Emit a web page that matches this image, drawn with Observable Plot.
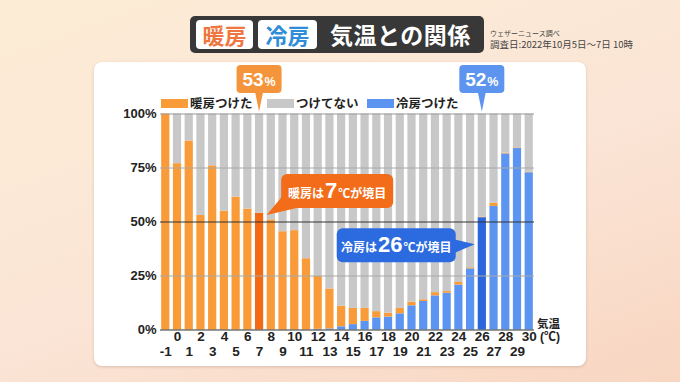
<!DOCTYPE html>
<html><head><meta charset="utf-8">
<script src="https://cdn.jsdelivr.net/npm/d3@7"></script>
<script src="https://cdn.jsdelivr.net/npm/@observablehq/plot@0.6"></script>
<style>
body{margin:0;}
#page{position:relative;width:680px;height:382px;overflow:hidden;background:linear-gradient(160deg,#fcecd5 0%,#fbe5d6 55%,#f8d6c2 100%);font-family:"Liberation Sans","Noto Sans CJK JP",sans-serif;}
#panel{position:absolute;left:94px;top:62px;width:492px;height:304px;background:#fff;border-radius:8px;box-shadow:0 1px 3px rgba(120,80,60,.25);}
#title{position:absolute;left:190px;top:16px;width:294px;height:37px;background:#383838;border-radius:5px;}
.tag{position:absolute;top:4px;height:29px;background:#fff;border-radius:4px;font:bold 22px/29px "Noto Sans CJK JP";text-align:center;}
#tmain{position:absolute;left:140px;top:0;height:37px;font:bold 23px/37px "Noto Sans CJK JP";color:#fff;letter-spacing:0.5px;white-space:nowrap;}
#src{position:absolute;left:490px;top:29px;color:#444;font-family:"Noto Sans CJK JP";white-space:nowrap;}
#legend{position:absolute;left:160px;top:95px;height:16px;font:bold 12.5px/16px "Noto Sans CJK JP";color:#222;}
.sw{position:absolute;top:4px;width:27px;height:9px;}
.lt{position:absolute;top:0;white-space:nowrap;}
#chart{position:absolute;left:0;top:0;}
</style></head>
<body><div id="page">
<div id="panel"></div>
<div id="title">
  <div class="tag" style="left:6px;width:57px;color:#ef773f;">暖房</div>
  <div class="tag" style="left:68px;width:59px;color:#2f8dd8;">冷房</div>
  <div id="tmain">気温との関係</div>
</div>
<div id="src"><div style="font-size:7px;line-height:9px;">ウェザーニュース調べ</div><div style="font-size:9.5px;line-height:12px;">調査日:2022年10月5日〜7日 10時</div></div>
<div id="legend">
  <div class="sw" style="left:1px;background:#f99b38;"></div><div class="lt" style="left:30px;">暖房つけた</div>
  <div class="sw" style="left:107px;background:#c8c8c8;"></div><div class="lt" style="left:136px;">つけてない</div>
  <div class="sw" style="left:207px;background:#5b95f1;"></div><div class="lt" style="left:236px;">冷房つけた</div>
</div>
<div id="chart"></div>
</div>
<script>
const temps = [-1,0,1,2,3,4,5,6,7,8,9,10,11,12,13,14,15,16,17,18,19,20,21,22,23,24,25,26,27,28,29,30];
const heating = [100,77,87.5,53,76,55,61.5,56,54,51,45.5,46,33,24.5,18.5,9.5,7.5,6,2.9,1.8,2.5,1.7,0.8,1.5,0.8,1.2,0.5,0.3,1.5,0.4,0.3,0.2];
const cooling = [0,0,0,0,0,0,0,0,0,0,0,0,0,0.3,0.5,1.5,2.5,4,5.6,6,7.5,11.2,13.2,15.8,17,20.8,28.3,52,57.2,81.5,84,72.8];
const yTicks = [0,25,50,75,100];
const heatPeak = {t:7, label:"53"};
const coolPeak = {t:26, label:"52"};

const rows = [];
temps.forEach((t,i)=>{
  rows.push({t, key:"cool", v:cooling[i]});
  rows.push({t, key:"heat", v:heating[i]});
  rows.push({t, key:"none", v:Math.max(0,100-cooling[i]-heating[i])});
});
const fillOf = d => d.key==="heat" ? (d.t===heatPeak.t ? "#f26b14" : "#f99b38")
                 : d.key==="cool" ? (d.t===coolPeak.t ? "#2b66dd" : "#5b95f1") : "#c8c8c8";

const plot = Plot.plot({
  width:680, height:382,
  marginLeft:160, marginRight:146, marginTop:113.5, marginBottom:52.5,
  style:{background:"transparent", fontFamily:'"Liberation Sans","Noto Sans CJK JP",sans-serif', fontWeight:"bold", color:"#222", overflow:"visible"},
  x:{type:"band", domain:temps, paddingInner:0.3, paddingOuter:0.1, round:false, axis:null},
  y:{domain:[0,100], axis:null},
  color:{type:"identity"},
  marks:[
    Plot.barY(rows, {x:"t", y:"v", z:"key", fill:fillOf}),
    Plot.ruleY([100], {stroke:"#9a9a9a", strokeWidth:1}),
    Plot.ruleY([25,75], {stroke:"#a8a8a8", strokeWidth:1}),
    Plot.ruleY([0,50], {stroke:"#333", strokeWidth:1.2}),
    Plot.axisY({ticks:yTicks, tickFormat:d=>d+"%", tickSize:0, tickPadding:4, fontSize:13, fontWeight:"bold", fill:"#222", label:null}),
    Plot.text(temps.filter(t=>t%2===0), {x:d=>d, text:d=>String(d), frameAnchor:"bottom", dy:11, fontSize:13.5, fontWeight:"bold", fill:"#222"}),
    Plot.text(temps.filter(t=>t%2!==0), {x:d=>d, text:d=>String(d), frameAnchor:"bottom", dy:26, fontSize:13.5, fontWeight:"bold", fill:"#222"}),
    Plot.text(["気温"], {frameAnchor:"bottom-right", dx:14, dy:-2, textAnchor:"middle", fontSize:11.5, fontWeight:"bold", fill:"#222", fontFamily:"Noto Sans CJK JP"}),
    Plot.text(["(℃)"], {frameAnchor:"bottom-right", dx:15.5, dy:11, textAnchor:"middle", fontSize:12, fontWeight:"bold", fill:"#222"})
  ]
});
document.getElementById("chart").appendChild(plot);

// annotations anchored to scales
const xs = plot.scale("x"), ysc = plot.scale("y");
const bw = xs.bandwidth;
const cx = t => xs.apply(t) + bw/2;
const ys = v => ysc.apply(v);
const g = d3.select(plot).append("g");

function peakBox(t, label, color){
  const x = cx(t), top = ys(100)-48.5, bot = ys(100)-20.5, w = 45;
  g.append("rect").attr("x", x-w/2).attr("y", top).attr("width", w).attr("height", bot-top).attr("rx",4).attr("fill", color);
  g.append("path").attr("d", `M${x-4},${bot-1}L${x+4},${bot-1}L${x},${ys(100)-2}Z`).attr("fill", color);
  const tx = g.append("text").attr("x", x).attr("y", top+20.5).attr("text-anchor","middle").attr("fill","#fff").attr("font-weight","bold").attr("font-family",'"Liberation Sans",sans-serif');
  tx.append("tspan").attr("font-size",19).text(label);
  tx.append("tspan").attr("font-size",12.5).attr("dx",1).text("%");
}
peakBox(heatPeak.t, heatPeak.label, "#f5953b");
peakBox(coolPeak.t, coolPeak.label, "#5c94ef");

function callout(left, top, w, h, tipX, tipY, pointer, color, pre, num, post){
  g.append("path").attr("d", pointer).attr("fill", color);
  g.append("rect").attr("x", left).attr("y", top).attr("width", w).attr("height", h).attr("rx",6).attr("fill", color);
  const tx = g.append("text").attr("x", left+w/2).attr("y", top+24).attr("text-anchor","middle").attr("fill","#fff").attr("font-weight","bold");
  tx.append("tspan").attr("font-size",12).attr("font-family","Noto Sans CJK JP").text(pre);
  tx.append("tspan").attr("font-size",22).attr("dx",1).attr("font-family",'"Liberation Sans",sans-serif').text(num);
  tx.append("tspan").attr("font-size",12).attr("dx",1).attr("font-family","Noto Sans CJK JP").text(post);
}
// heating: tip at boundary between 7 and 8
{
  const tipX = xs.apply(8), tipY = ys(53);
  const left = tipX+14.5, top = tipY-41, w = 112, h = 34;
  const p = `M${tipX},${tipY}L${left+3},${top+h-14}L${left+24},${top+h-2}Z`;
  callout(left, top, w, h, tipX, tipY, p, "#f26c1a", "暖房は", "7", "℃が境目");
}
// cooling: tip left of bar 26
{
  const tipX = xs.apply(26)-3, tipY = ys(39.5);
  const left = tipX-138, top = tipY-16, w = 119, h = 34;
  const p = `M${left+w-2},${top+11}L${tipX},${tipY}L${left+w-2},${top+25}Z`;
  callout(left, top, w, h, tipX, tipY, p, "#2c6ae0", "冷房は", "26", "℃が境目");
}
</script>
</body></html>
